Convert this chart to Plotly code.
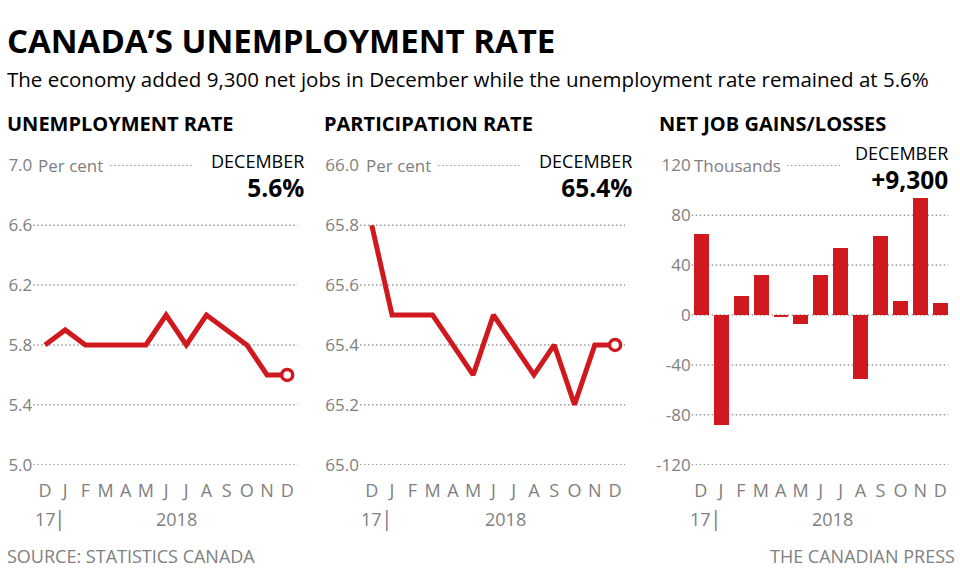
import plotly.graph_objects as go

# ---------------- data ----------------
months = ["D", "J", "F", "M", "A", "M", "J", "J", "A", "S", "O", "N", "D"]
unemployment = [5.8, 5.9, 5.8, 5.8, 5.8, 5.8, 6.0, 5.8, 6.0, 5.9, 5.8, 5.6, 5.6]
participation = [65.8, 65.5, 65.5, 65.5, 65.4, 65.3, 65.5, 65.4, 65.3, 65.4, 65.2, 65.4, 65.4]
net_jobs = [64.8, -88.0, 15.4, 32.3, -1.1, -7.5, 31.8, 54.1, -51.6, 63.3, 11.2, 94.1, 9.3]
unemp_ticks = [5.0, 5.4, 5.8, 6.2, 6.6, 7.0]
part_ticks = [65.0, 65.2, 65.4, 65.6, 65.8, 66.0]
jobs_ticks = [-120, -80, -40, 0, 40, 80, 120]
latest_labels = ["5.6%", "65.4%", "+9,300"]

# ---------------- style ----------------
FONT = "Open Sans"
RED = "#d0191f"
GREY = "#808080"
GRID = "#9a9a9a"
W, H = 960, 575
xi = list(range(len(months)))

def px(x):
    return x / W

def py(y):
    return 1 - y / H

ydom = [py(465), py(165)]
panels = [
    dict(dom=[px(33.3), px(297.7)], rng=[-0.58, 12.52], ticks=unemp_ticks, fmt="{:.1f}"),
    dict(dom=[px(360), px(625)], rng=[-0.58, 12.49], ticks=part_ticks, fmt="{:.1f}"),
    dict(dom=[px(691.7), px(948.3)], rng=[-0.46, 12.4], ticks=jobs_ticks, fmt="{:d}"),
]
top_partial = [(0.29, 0.605), (0.294, 0.604), (0.371, 0.578)]

fig = go.Figure()

# traces
fig.add_trace(go.Scatter(x=xi, y=unemployment, mode="lines", line=dict(color=RED, width=5),
                         xaxis="x", yaxis="y", hoverinfo="skip"))
fig.add_trace(go.Scatter(x=[xi[-1]], y=[unemployment[-1]], mode="markers",
                         marker=dict(size=11, color="white", line=dict(color=RED, width=3.5)),
                         xaxis="x", yaxis="y", hoverinfo="skip"))
fig.add_trace(go.Scatter(x=xi, y=participation, mode="lines", line=dict(color=RED, width=5),
                         xaxis="x2", yaxis="y2", hoverinfo="skip"))
fig.add_trace(go.Scatter(x=[xi[-1]], y=[participation[-1]], mode="markers",
                         marker=dict(size=11, color="white", line=dict(color=RED, width=3.5)),
                         xaxis="x2", yaxis="y2", hoverinfo="skip"))
fig.add_trace(go.Bar(x=xi, y=net_jobs, marker=dict(color=RED, line=dict(width=0)), width=0.75,
                     xaxis="x3", yaxis="y3", hoverinfo="skip"))

layout_axes = {}
shapes = []
for i, p in enumerate(panels):
    sfx = "" if i == 0 else str(i + 1)
    ticks = p["ticks"]
    span = ticks[-1] - ticks[0]
    eps = span * 0.001
    layout_axes["xaxis" + sfx] = dict(
        domain=p["dom"], range=p["rng"], anchor="y" + sfx, automargin=False,
        tickvals=xi, ticktext=months, showgrid=False, zeroline=False, showline=False,
        ticks="outside", ticklen=9, tickcolor="rgba(0,0,0,0)",
        tickfont=dict(family=FONT, size=18, color=GREY), fixedrange=True)
    layout_axes["yaxis" + sfx] = dict(
        domain=ydom, range=[ticks[0] - eps, ticks[-1] + eps], anchor="x" + sfx, automargin=False,
        tickvals=ticks, ticktext=[p["fmt"].format(t) for t in ticks],
        showgrid=False, zeroline=False, showline=False, ticks="",
        tickfont=dict(family=FONT, size=17, color=GREY), fixedrange=True)
    xdom_ref = "x" + sfx + " domain"
    for t in ticks[:-1]:
        shapes.append(dict(type="line", xref=xdom_ref, yref="y" + sfx, x0=0, x1=1, y0=t, y1=t,
                           line=dict(color=GRID, width=1.5, dash="1.5px,2.5px"), layer="below"))
    a, b = top_partial[i]
    shapes.append(dict(type="line", xref=xdom_ref, yref="y" + sfx, x0=a, x1=b,
                       y0=ticks[-1], y1=ticks[-1],
                       line=dict(color=GRID, width=1.5, dash="1.5px,2.5px"), layer="below"))

ann = []
def text(x, y, t, size, color="black", xanchor="left", yanchor="middle", xref="paper",
         yref="paper", align="left"):
    ann.append(dict(x=x, y=y, xref=xref, yref=yref, text=t, showarrow=False,
                    xanchor=xanchor, yanchor=yanchor, align=align,
                    font=dict(family=FONT, size=size, color=color)))

text(px(5), py(40), "<b>CANADA’S UNEMPLOYMENT RATE</b>", 33)
text(px(5), py(79), "The economy added 9,300 net jobs in December while the unemployment rate remained at 5.6%", 20.5)
text(px(5), py(123), "<b>UNEMPLOYMENT RATE</b>", 20)
text(px(322), py(123), "<b>PARTICIPATION RATE</b>", 20)
text(px(657), py(123), "<b>NET JOB GAINS/LOSSES</b>", 20)

text(px(36), py(165), "Per cent", 17, GREY)
text(px(364), py(165), "Per cent", 17, GREY)
text(px(692), py(165), "Thousands", 17, GREY)

for xr, yc, lab in zip([306, 634, 950], [177, 177, 168], latest_labels):
    text(px(xr), py(yc),
         "<span style='font-size:18px'>DECEMBER</span><br>"
         "<b><span style='font-size:24.5px'>" + lab + "</span></b>",
         22.5, xanchor="right", align="right")

for i, yearpos in enumerate([6.5, 6.6, 6.6]):
    sfx = "" if i == 0 else str(i + 1)
    text(0, py(519), "17", 18, GREY, xanchor="center", xref="x" + sfx)
    text(0.75, py(518), "|", 21, GREY, xanchor="center", xref="x" + sfx)
    text(yearpos, py(519), "2018", 18, GREY, xanchor="center", xref="x" + sfx)

text(px(5), py(556), "SOURCE: STATISTICS CANADA", 18, GREY)
text(px(957), py(556), "THE CANADIAN PRESS", 18, GREY, xanchor="right")

fig.update_layout(
    width=W, height=H, margin=dict(l=0, r=0, t=0, b=0, autoexpand=False),
    paper_bgcolor="white", plot_bgcolor="white", showlegend=False,
    shapes=shapes, annotations=ann, bargap=0, **layout_axes)

fig.write_html("out.html", config={"displayModeBar": False},
               post_script="document.body.style.margin='0';document.body.style.overflow='hidden';")
